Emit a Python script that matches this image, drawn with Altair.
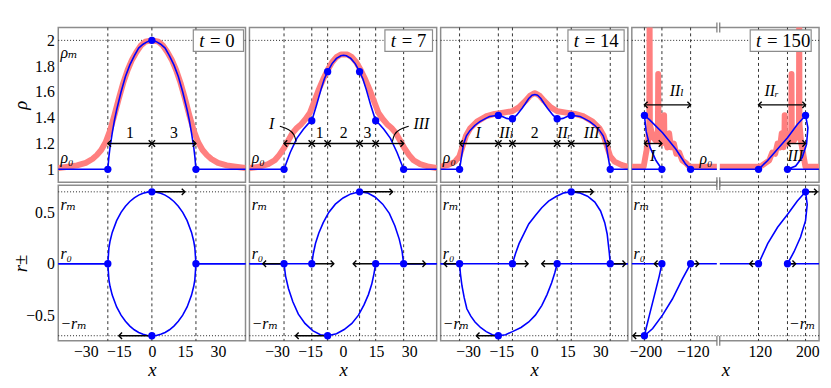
import altair as alt
import pandas as pd

FONT = "'Liberation Serif', 'DejaVu Serif', 'Times New Roman', serif"
BLUE = "#0000ff"
RED = "#ff7f7f"
W, HT, HB = 190, 157, 158
RHO_DOM = [0.9, 2.1]
R_DOM = [-0.75, 0.765]
RHO_TICKS = [1, 1.2, 1.4, 1.6, 1.8, 2]
R_TICKS = [-0.5, 0, 0.5]
RHO_M = 2.0
R_M = 0.7

# ---------------- t = 0 ----------------
B0_X = [-42.5, -20, -19.5, -19, -18, -17, -16, -15, -14, -12, -10, -8, -6, -4, -2, 0,
        2, 4, 6, 8, 10, 12, 14, 15, 16, 17, 18, 19, 19.5, 20, 42.5]
B0_RHO = [1, 1, 1.10, 1.17, 1.28, 1.38, 1.46, 1.53, 1.60, 1.72, 1.81, 1.88, 1.94, 1.97, 1.99, 2.0,
          1.99, 1.97, 1.94, 1.88, 1.81, 1.72, 1.60, 1.53, 1.46, 1.38, 1.28, 1.17, 1.10, 1, 1]
RED0_X = [-42.5, -38, -34, -30, -27, -25, -23, -21, -19, -17, -15, -13, -11, -9, -7, -5, -3, 0,
          3, 5, 7, 9, 11, 13, 15, 17, 19, 21, 23, 25, 27, 30, 34, 38, 42.5]
RED0_RHO = [1.01, 1.02, 1.03, 1.05, 1.08, 1.11, 1.15, 1.21, 1.30, 1.42, 1.55, 1.67, 1.77, 1.85, 1.91, 1.96, 1.99, 2.0,
            1.99, 1.96, 1.91, 1.85, 1.77, 1.67, 1.55, 1.42, 1.30, 1.21, 1.15, 1.11, 1.08, 1.05, 1.03, 1.02, 1.01]
R0_X = [-42.5, -20, -19.5, -19, -18, -16, -14, -12, -10, -8, -6, -4, -2, 0,
        2, 4, 6, 8, 10, 12, 14, 16, 18, 19, 19.5, 20, 42.5]
R0_UP = [0, 0, 0.156, 0.219, 0.305, 0.42, 0.5, 0.56, 0.606, 0.642, 0.668, 0.686, 0.697, 0.7,
         0.697, 0.686, 0.668, 0.642, 0.606, 0.56, 0.5, 0.42, 0.305, 0.219, 0.156, 0, 0]
R0_DN = [0, 0, -0.156, -0.219, -0.305, -0.42, -0.5, -0.56, -0.606, -0.642, -0.668, -0.686, -0.697, -0.7,
         -0.697, -0.686, -0.668, -0.642, -0.606, -0.56, -0.5, -0.42, -0.305, -0.219, -0.156, 0, 0]
P0_X = [-20, 0, 20]
P0_RHO = [1, 2, 1]
PR0_X = [-20, 0, 0, 20]
PR0_R = [0, 0.7, -0.7, 0]
D0_X1 = [-20, 0]
D0_X2 = [0, 20]
D0_Y = [1.2, 1.2]
A0_X1 = [0, 0]
A0_X2 = [15, -15]
A0_R = [0.7, -0.7]

# ---------------- t = 7 ----------------
B7_X = [-42.5, -26.8, -24, -21, -18, -16, -14.2, -12, -10, -8.5, -7, -5, -3, -1, 0.25,
        1.5, 3.5, 5.5, 7.5, 9, 10.5, 12.5, 14.8, 16.5, 18.5, 21.5, 24.5, 27.5, 42.5]
B7_RHO = [1, 1, 1.13, 1.24, 1.31, 1.35, 1.377, 1.50, 1.62, 1.70, 1.757, 1.82, 1.86, 1.88, 1.885,
          1.88, 1.86, 1.82, 1.757, 1.70, 1.62, 1.50, 1.377, 1.35, 1.31, 1.24, 1.13, 1, 1]
RED7_X = [-42.5, -38, -34, -31, -29, -27, -25, -23, -21, -19, -17, -15, -13, -11, -9, -7, -5, -3, -1, 0.5,
          2, 4, 6, 8, 10, 12, 14, 16, 18, 20, 22, 24, 26, 28, 30, 32, 35, 39, 42.5]
RED7_RHO = [1.01, 1.02, 1.04, 1.07, 1.11, 1.16, 1.22, 1.28, 1.32, 1.35, 1.39, 1.44, 1.53, 1.62, 1.70, 1.77, 1.83, 1.87, 1.89, 1.89,
            1.89, 1.87, 1.83, 1.77, 1.70, 1.62, 1.53, 1.44, 1.39, 1.35, 1.32, 1.28, 1.22, 1.16, 1.11, 1.07, 1.04, 1.02, 1.01]
R7U_X = [-42.5, -14.2, -13.5, -12.5, -11, -9, -6.5, -3.5, 0, 3.5, 7.5, 11, 14.5, 18, 21, 23.5, 25.5, 26.8, 27.5, 42.5]
R7U_R = [0, 0, 0.1, 0.2, 0.3, 0.4, 0.5, 0.58, 0.64, 0.68, 0.7, 0.69, 0.65, 0.58, 0.49, 0.37, 0.24, 0.12, 0, 0]
R7L_X = [-42.5, -26.8, -26.1, -24.8, -22.8, -20.3, -17.3, -13.8, -10.3, -7, -3, 0.5, 4, 7, 9.5, 11.5, 13, 14, 14.8, 42.5]
R7L_R = [0, 0, -0.12, -0.24, -0.37, -0.49, -0.58, -0.65, -0.69, -0.7, -0.68, -0.64, -0.58, -0.5, -0.4, -0.3, -0.2, -0.1, 0, 0]
P7_X = [-26.8, -14.2, -7, 7.5, 14.8, 27.5]
P7_RHO = [1, 1.377, 1.757, 1.757, 1.377, 1]
PR7_R = [0, 0, -0.7, 0.7, 0, 0]
D7_X1 = [-26.8, -14.2, -7, 7.5, 14.8]
D7_X2 = [-14.2, -7, 7.5, 14.8, 27.5]
D7_Y = [1.2, 1.2, 1.2, 1.2, 1.2]
A7_X1 = [-26.8, -14.2, -7, 7.5, 14.8, 27.5]
A7_X2 = [-36.4, -4.2, -21.6, 22.5, 4.6, 37.5]
A7_R = [0, 0, -0.7, 0.7, 0, 0]
C7L_X = [-28.7, -24.3, -22.1, -21.3]
C7L_RHO = [1.334, 1.309, 1.27, 1.215]
C7R_X = [29.8, 25.3, 23.1, 22.4]
C7R_RHO = [1.334, 1.309, 1.27, 1.215]

# ---------------- t = 14 ----------------
B14_X = [-42.5, -33.9, -33, -32.1, -30.8, -29.2, -27, -24.7, -22, -20.3, -18, -16.3, -14.5, -12.5, -11, -9.9,
         -8, -5.5, -4, -2.5, -1, 0.3, 1.5, 3, 4.5, 6, 8.5, 10.4, 11.5, 13, 15, 16.8, 18.5, 20.8, 22.5, 25.2,
         27.5, 29.7, 31.3, 32.6, 33.5, 34.5, 42.5]
B14_RHO = [1, 1, 1.1, 1.195, 1.26, 1.30, 1.34, 1.37, 1.395, 1.41, 1.416, 1.418, 1.41, 1.395, 1.39, 1.392,
           1.42, 1.473, 1.51, 1.549, 1.575, 1.58, 1.575, 1.549, 1.51, 1.473, 1.42, 1.392, 1.39, 1.395, 1.41, 1.418,
           1.416, 1.41, 1.395, 1.37, 1.34, 1.30, 1.26, 1.195, 1.1, 1, 1]
RED14_X = [-42.5, -39, -36, -34, -32.5, -31, -29, -26, -22, -18, -14, -10, -7, -4, -2, 0,
           0.5, 2.5, 4.5, 7.5, 10.5, 14.5, 18.5, 22.5, 26.5, 29.5, 31.5, 33, 34.5, 36.5, 39.5, 42.5]
RED14_RHO = [1.02, 1.035, 1.06, 1.1, 1.18, 1.26, 1.32, 1.37, 1.41, 1.43, 1.44, 1.45, 1.48, 1.53, 1.57, 1.59,
             1.59, 1.57, 1.53, 1.48, 1.45, 1.44, 1.43, 1.41, 1.37, 1.32, 1.26, 1.18, 1.1, 1.06, 1.035, 1.02]
R14U_X = [-42.5, -9.9, -8.5, -6.9, -2.5, 0.5, 3.4, 6.5, 10.1, 13.5, 16.8, 20.5, 24.2, 27.5, 30.1, 32, 33.1, 34.1, 34.5, 42.5]
R14U_R = [0, 0, 0.1, 0.196, 0.387, 0.47, 0.546, 0.61, 0.657, 0.69, 0.7, 0.69, 0.657, 0.6, 0.514, 0.4, 0.29, 0.1, 0, 0]
R14L_X = [-42.5, -33.9, -33.5, -32.8, -31.8, -30.6, -28.8, -26.9, -24.4, -21.8, -19, -16.3, -13, -9.9, -6, -2.5,
          0.5, 3.4, 5.8, 7.9, 9.3, 10.4, 42.5]
R14L_R = [0, 0, -0.1, -0.216, -0.33, -0.438, -0.51, -0.566, -0.62, -0.66, -0.69, -0.7, -0.69, -0.66, -0.62, -0.566,
          -0.5, -0.407, -0.3, -0.185, -0.09, 0, 0]
P14_X = [-33.9, -16.3, -9.9, 10.4, 16.8, 34.5]
P14_RHO = [1, 1.418, 1.392, 1.392, 1.418, 1]
PR14_R = [0, -0.7, 0, 0, 0.7, 0]
D14_X1 = [-33.9, -16.3, -9.9, 10.4, 16.8]
D14_X2 = [-16.3, -9.9, 10.4, 16.8, 34.5]
D14_Y = [1.2, 1.2, 1.2, 1.2, 1.2]
A14_X1 = [-33.9, -16.3, -9.9, 10.4, 16.8, 34.5]
A14_X2 = [-41, -26.3, -2.8, 3.4, 26.8, 41.5]
A14_R = [0, -0.7, 0, 0, 0.7, 0]

# ---------------- t = 150 (broken axis) ----------------
B150L_X = [-223, -172.2, -182.2, -192.2, -198.9, -201.7, -193.3, -171.1, -148.9, -132.2, -123.8, -79.5]
B150L_RHO = [1, 1, 1.068, 1.17, 1.296, 1.418, 1.385, 1.283, 1.157, 1.04, 1, 1]
B150R_X = [52.5, 117.8, 133.3, 150, 166.7, 183.3, 197.2, 201.2, 198.9, 191.7, 180.5, 166.7, 220]
B150R_RHO = [1, 1, 1.068, 1.157, 1.245, 1.347, 1.418, 1.321, 1.195, 1.093, 1.025, 1, 1]
RED150L_X = [-223, -203, -200, -196, -193.5, -193, -192.5, -188, -182, -179, -178.5, -178, -173, -169, -168.5,
             -168, -163, -160, -157, -152, -148, -143, -138, -132, -126, -79.5]
RED150L_RHO = [1.02, 1.02, 1.1, 1.2, 1.35, 2.3, 1.35, 1.25, 1.22, 1.3, 1.74, 1.3, 1.2, 1.25, 1.42,
               1.25, 1.17, 1.28, 1.17, 1.2, 1.12, 1.13, 1.07, 1.05, 1.02, 1.02]
RED150R_X = [52.5, 118, 124, 130, 136, 141, 146, 150, 154, 157, 160, 161.5, 162, 162.5, 167, 173, 173.5, 174,
             177, 182, 186, 186.5, 187, 190, 194, 197, 220]
RED150R_RHO = [1.02, 1.02, 1.03, 1.05, 1.07, 1.13, 1.12, 1.2, 1.17, 1.28, 1.17, 1.25, 1.42, 1.25, 1.2, 1.3, 1.74, 1.3,
               1.22, 1.25, 1.35, 2.3, 1.35, 1.2, 1.1, 1.02, 1.02]
R150L_X = [-223, -172.2, -176.7, -185, -193.3, -198.9, -201.7, -187.8, -171.2, -154.5, -137.8, -123.8, -79.5]
R150L_R = [0, 0, -0.12, -0.31, -0.5, -0.63, -0.7, -0.63, -0.5, -0.343, -0.15, 0, 0]
R150R_X = [52.5, 117.8, 133.3, 150, 166.7, 183.3, 197.2, 200, 197.2, 188.8, 177.8, 166.7, 220]
R150R_R = [0, 0, 0.196, 0.355, 0.48, 0.61, 0.7, 0.577, 0.42, 0.26, 0.117, 0, 0]
P150_X = [-201.7, -172.2, -123.8, 117.8, 166.7, 197.2]
P150_RHO = [1.418, 1, 1, 1, 1, 1.418]
PR150_R = [-0.7, 0, 0, 0, 0, 0.7]
D150_X1 = [-201.7, -201.7, 117.8, 166.7]
D150_X2 = [-123.8, -172.2, 197.2, 197.2]
D150_Y = [1.5, 1.2, 1.5, 1.2]
A150_X1 = [-201.7, -172.2, -123.8, 117.8, 166.7, 197.2]
A150_X2 = [-221, -185, -110, 103, 180.5, 217]
A150_R = [-0.7, 0, 0, 0, 0, 0.7]

# ---------------- labels ----------------
TOP_LAB0 = [("ρₘ", -41.5, 1.90, "i", "left"), ("ρ₀", -41.5, 1.085, "i", "left"),
            ("1", -10, 1.28, "n", "center"), ("3", 10, 1.28, "n", "center")]
TOP_LAB7 = [("ρ₀", -41.5, 1.085, "i", "left"), ("I", -32.4, 1.35, "i", "center"),
            ("1", -10.6, 1.28, "n", "center"), ("2", 0.25, 1.28, "n", "center"),
            ("3", 11.1, 1.28, "n", "center"), ("III", 35.6, 1.35, "i", "center")]
TOP_LAB14 = [("ρ₀", -41.5, 1.085, "i", "left"), ("I", -25.5, 1.28, "i", "center"),
             ("IIₗ", -12.6, 1.28, "i", "center"), ("2", 0.25, 1.28, "n", "center"),
             ("IIᵣ", 13.7, 1.28, "i", "center"), ("III", 26, 1.28, "i", "center")]
TOP_LAB150 = [("IIₗ", -147, 1.61, "i", "center"), ("I", -187.8, 1.106, "i", "center"),
              ("IIᵣ", 140, 1.61, "i", "center"), ("III", 180, 1.106, "i", "center"),
              ("ρ₀", -97.8, 1.08, "i", "center")]
BOT_LAB = [("rₘ", -41.5, 0.57, "i", "left"), ("r₀", -41.5, 0.098, "i", "left"),
           ("−rₘ", -41.5, -0.587, "i", "left")]
BOT_LAB150 = [("rₘ", -220, 0.57, "i", "left"), ("r₀", -220, 0.098, "i", "left"),
              ("−rₘ", 214, -0.587, "i", "right")]

T_LABELS = ["= 0", "= 7", "= 14", "= 150"]
BOX_X1 = [18.8, 19.0, 15.3, 103.8]
BOX_X2 = [41.6, 40.6, 40.8, 206.7]
BOX_Y1 = 1.914
BOX_Y2 = 2.081

X_TICKS_SMALL = [-30, -15, 0, 15, 30]
X_TICKS_BIG = [-200, -120, 120, 200]
C150 = 63.5          # half of the removed stretch of the broken axis
BRK_U = -13.5        # position of the break on the compressed axis


def ident(xs):
    return list(xs)


def brk(xs):
    return [v + C150 if v < 0 else v - C150 for v in xs]


PANELS = [
    dict(tx=ident, xdom=[-42.5, 42.5], xticks=X_TICKS_SMALL, lexpr=None,
         red=[(RED0_X, RED0_RHO)], blue=[(B0_X, B0_RHO)], pts=(P0_X, P0_RHO), v=P0_X,
         dims=(D0_X1, D0_X2, D0_Y), calls=[], tlab=TOP_LAB0,
         rcur=[(R0_X, R0_UP), (R0_X, R0_DN)], rpts=(PR0_X, PR0_R),
         arr=(A0_X1, A0_X2, A0_R), blab=BOT_LAB, brk=False),
    dict(tx=ident, xdom=[-42.5, 42.5], xticks=X_TICKS_SMALL, lexpr=None,
         red=[(RED7_X, RED7_RHO)], blue=[(B7_X, B7_RHO)], pts=(P7_X, P7_RHO), v=P7_X,
         dims=(D7_X1, D7_X2, D7_Y), calls=[(C7L_X, C7L_RHO), (C7R_X, C7R_RHO)], tlab=TOP_LAB7,
         rcur=[(R7U_X, R7U_R), (R7L_X, R7L_R)], rpts=(P7_X, PR7_R),
         arr=(A7_X1, A7_X2, A7_R), blab=BOT_LAB, brk=False),
    dict(tx=ident, xdom=[-42.5, 42.5], xticks=X_TICKS_SMALL, lexpr=None,
         red=[(RED14_X, RED14_RHO)], blue=[(B14_X, B14_RHO)], pts=(P14_X, P14_RHO), v=P14_X,
         dims=(D14_X1, D14_X2, D14_Y), calls=[], tlab=TOP_LAB14,
         rcur=[(R14U_X, R14U_R), (R14L_X, R14L_R)], rpts=(P14_X, PR14_R),
         arr=(A14_X1, A14_X2, A14_R), blab=BOT_LAB, brk=False),
    dict(tx=brk, xdom=[-159.5, 156.5], xticks=X_TICKS_BIG,
         lexpr="datum.value < %s ? format(datum.value - %s, 'd') : format(datum.value + %s, 'd')" % (BRK_U, C150, C150),
         red=[(RED150L_X, RED150L_RHO), (RED150R_X, RED150R_RHO)],
         blue=[(B150L_X, B150L_RHO), (B150R_X, B150R_RHO)], pts=(P150_X, P150_RHO), v=P150_X,
         dims=(D150_X1, D150_X2, D150_Y), calls=[], tlab=TOP_LAB150,
         rcur=[(R150L_X, R150L_R), (R150R_X, R150R_R)], rpts=(P150_X, PR150_R),
         arr=(A150_X1, A150_X2, A150_R), blab=BOT_LAB150, brk=True),
]

PR_SHAPE = "M -1 -1 L 0 0 L -1 1"
PL_SHAPE = "M 1 -1 L 0 0 L 1 1"


def xenc(field, p, row):
    pan = PANELS[p]
    sc = alt.Scale(domain=pan["xdom"], nice=False, zero=False)
    if row == "top":
        return alt.X(field, type="quantitative", scale=sc, axis=None)
    kw = dict(values=pan["tx"](pan["xticks"]), title="x", grid=False, ticks=False, domain=False,
              labelFont=FONT, labelFontSize=16, labelColor="black", labelPadding=3,
              titleFont=FONT, titleFontSize=19, titleFontStyle="italic", titleFontWeight="normal",
              titleColor="black", titlePadding=1, labelFlush=False, labelOverlap=False)
    if pan["lexpr"]:
        kw["labelExpr"] = pan["lexpr"]
    return alt.X(field, type="quantitative", scale=sc, axis=alt.Axis(**kw))


def yenc(field, p, row):
    dom = RHO_DOM if row == "top" else R_DOM
    sc = alt.Scale(domain=dom, nice=False, zero=False)
    if p != 0:
        return alt.Y(field, type="quantitative", scale=sc, axis=None)
    ax = alt.Axis(values=RHO_TICKS if row == "top" else R_TICKS, format="~g",
                  title="ρ" if row == "top" else "r±", grid=False, ticks=False, domain=False,
                  labelFont=FONT, labelFontSize=16, labelColor="black", labelPadding=4,
                  titleFont=FONT, titleFontSize=19, titleFontStyle="italic", titleFontWeight="normal",
                  titleColor="black", titlePadding=2, minExtent=26, maxExtent=26, labelFlush=False)
    return alt.Y(field, type="quantitative", scale=sc, axis=ax)


def series_df(series, tx):
    frames = []
    for k, (xs, ys) in enumerate(series):
        frames.append(pd.DataFrame({"x": tx(xs), "y": ys, "i": list(range(len(xs))), "s": k}))
    return pd.concat(frames, ignore_index=True)


def text_layers(labels, tx, X, Y, size=16):
    out = []
    groups = {}
    for (t, x, y, st, al) in labels:
        groups.setdefault((st, al), []).append((t, x, y))
    for (st, al), rows in groups.items():
        df = pd.DataFrame({"t": [r[0] for r in rows], "x": tx([r[1] for r in rows]), "y": [r[2] for r in rows]})
        out.append(alt.Chart(df).mark_text(font=FONT, fontSize=size, fontStyle="italic" if st == "i" else "normal",
                                           align=al, baseline="middle", color="black")
                   .encode(x=X("x"), y=Y("y"), text="t:N"))
    return out


def head_layer(tips, dirs, ys, X, Y):
    df = pd.DataFrame({"x": tips, "y": ys, "d": dirs})
    return alt.Chart(df).mark_point(filled=False, stroke="black", strokeWidth=1.4, size=42, opacity=1).encode(
        x=X("x"), y=Y("y"),
        shape=alt.Shape("d:N", scale=alt.Scale(domain=["L", "R"], range=[PL_SHAPE, PR_SHAPE]), legend=None))


def break_layers(X, H):
    out = []
    bdf = pd.DataFrame({"x": [BRK_U - 2.4, BRK_U + 2.4]})
    wdf = pd.DataFrame({"x": [BRK_U - 2.0], "x2": [BRK_U + 2.0]})
    for y0 in (0, H):
        out.append(alt.Chart(wdf).mark_rect(color="white").encode(x=X("x"), x2="x2", y=alt.value(y0 - 2), y2=alt.value(y0 + 2)))
        out.append(alt.Chart(bdf).mark_rule(color="#777777", strokeWidth=1.2).encode(x=X("x"), y=alt.value(y0 - 5), y2=alt.value(y0 + 5)))
    return out


def top_panel(p):
    pan = PANELS[p]
    tx = pan["tx"]
    X = lambda f: xenc(f, p, "top")
    Y = lambda f: yenc(f, p, "top")
    L = []
    L.append(alt.Chart(pd.DataFrame({"x": tx(pan["v"])})).mark_rule(color="#333333", strokeDash=[3, 3], strokeWidth=1).encode(x=X("x")))
    L.append(alt.Chart(pd.DataFrame({"y": [RHO_M]})).mark_rule(color="#222222", strokeDash=[1, 2], strokeWidth=1).encode(y=Y("y")))
    L.append(alt.Chart(series_df(pan["red"], tx)).mark_line(color=RED, strokeWidth=6, clip=True, strokeJoin="round").encode(
        x=X("x"), y=Y("y"), detail="s:N", order="i:Q"))
    L.append(alt.Chart(series_df(pan["blue"], tx)).mark_line(color=BLUE, strokeWidth=1.6).encode(
        x=X("x"), y=Y("y"), detail="s:N", order="i:Q"))
    px, py = pan["pts"]
    L.append(alt.Chart(pd.DataFrame({"x": tx(px), "y": py})).mark_circle(color=BLUE, size=55, opacity=1).encode(x=X("x"), y=Y("y")))
    x1, x2, yy = pan["dims"]
    ddf = pd.DataFrame({"x": tx(x1), "x2": tx(x2), "y": yy})
    L.append(alt.Chart(ddf).mark_rule(color="black", strokeWidth=1.4).encode(x=X("x"), x2="x2", y=Y("y")))
    L.append(head_layer(tx(x1) + tx(x2), ["L"] * len(x1) + ["R"] * len(x2), yy + yy, X, Y))
    for (cx, cy) in pan["calls"]:
        L.append(alt.Chart(pd.DataFrame({"x": tx(cx), "y": cy, "i": list(range(len(cx)))})).mark_line(
            color="black", strokeWidth=1.1, interpolate="basis").encode(x=X("x"), y=Y("y"), order="i:Q"))
    L += text_layers(pan["tlab"], tx, X, Y)
    bdf = pd.DataFrame({"x": tx([BOX_X1[p]]), "x2": tx([BOX_X2[p]]), "y": [BOX_Y1], "y2": [BOX_Y2],
                        "tt": ["t"], "te": [T_LABELS[p]], "yc": [(BOX_Y1 + BOX_Y2) / 2]})
    L.append(alt.Chart(bdf).mark_rect(fill="white", stroke="#8c8c8c", strokeWidth=1.2).encode(x=X("x"), x2="x2", y=Y("y"), y2="y2"))
    L.append(alt.Chart(bdf).mark_text(font=FONT, fontSize=19, fontStyle="italic", align="left", baseline="middle", dx=6, color="black").encode(
        x=X("x"), y=Y("yc"), text="tt:N"))
    L.append(alt.Chart(bdf).mark_text(font=FONT, fontSize=19, align="left", baseline="middle", dx=17, color="black").encode(
        x=X("x"), y=Y("yc"), text="te:N"))
    if pan["brk"]:
        L += break_layers(X, HT)
    return alt.layer(*L).properties(width=W, height=HT)


def bottom_panel(p):
    pan = PANELS[p]
    tx = pan["tx"]
    X = lambda f: xenc(f, p, "bot")
    Y = lambda f: yenc(f, p, "bot")
    L = []
    L.append(alt.Chart(pd.DataFrame({"x": tx(pan["v"])})).mark_rule(color="#333333", strokeDash=[3, 3], strokeWidth=1).encode(x=X("x")))
    L.append(alt.Chart(pd.DataFrame({"y": [R_M, -R_M]})).mark_rule(color="#222222", strokeDash=[1, 2], strokeWidth=1).encode(y=Y("y")))
    L.append(alt.Chart(series_df(pan["rcur"], tx)).mark_line(color=BLUE, strokeWidth=1.6).encode(
        x=X("x"), y=Y("y"), detail="s:N", order="i:Q"))
    a1, a2, ar = pan["arr"]
    adf = pd.DataFrame({"x": tx(a1), "x2": tx(a2), "y": ar})
    L.append(alt.Chart(adf).mark_rule(color="black", strokeWidth=1.5).encode(x=X("x"), x2="x2", y=Y("y")))
    L.append(head_layer(tx(a2), ["R" if b > a else "L" for a, b in zip(a1, a2)], ar, X, Y))
    px, py = pan["rpts"]
    L.append(alt.Chart(pd.DataFrame({"x": tx(px), "y": py})).mark_circle(color=BLUE, size=55, opacity=1).encode(x=X("x"), y=Y("y")))
    L += text_layers(pan["blab"], tx, X, Y)
    if pan["brk"]:
        L += break_layers(X, HB)
    return alt.layer(*L).properties(width=W, height=HB)


charts = [top_panel(p) for p in range(4)] + [bottom_panel(p) for p in range(4)]
chart = alt.concat(*charts, columns=4, spacing={"row": 3, "column": 4}, bounds="flush").properties(
    padding={"left": 3, "top": 10, "right": 0, "bottom": 0}
).configure_view(stroke="#8c8c8c", strokeWidth=1.5)

chart.save("out.html", embed_options={"renderer": "svg", "actions": False})
